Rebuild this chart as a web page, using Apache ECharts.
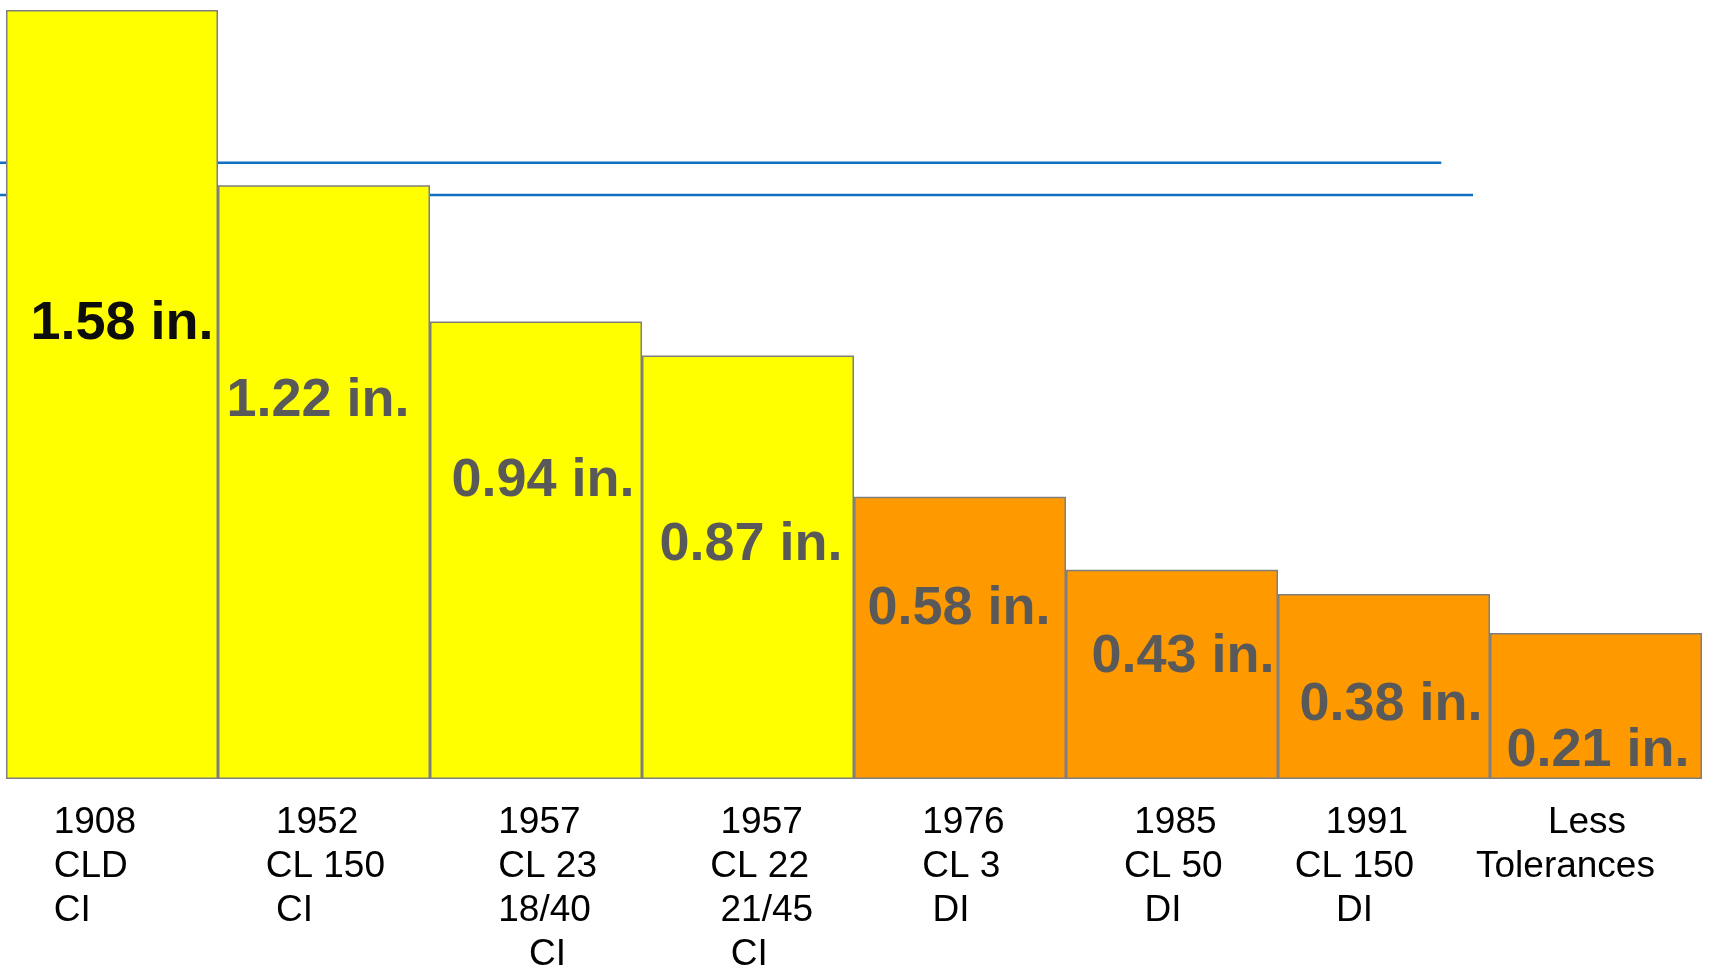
<!DOCTYPE html>
<html>
<head>
<meta charset="utf-8">
<script src="https://cdn.jsdelivr.net/npm/echarts@6/dist/echarts.min.js"></script>
<style>
  html, body { margin: 0; padding: 0; background: #fff; }
  #chart { width: 1710px; height: 970px; }
</style>
</head>
<body>
<div id="chart"></div>
<script>
// pipe categories (year / class / material)
var categories = ['1908\nCLD\nCI', '1952\nCL 150\nCI', '1957\nCL 23\n18/40\nCI', '1957\nCL 22\n21/45\nCI',
  '1976\nCL 3\nDI', '1985\nCL 50\nDI', '1991\nCL 150\nDI', 'Less\nTolerances'];
// bar heights as drawn, and the text printed on them
var barHeights = [1.58, 1.22, 0.94, 0.87, 0.58, 0.43, 0.38, 0.30];
var barTexts = ['1.58 in.', '1.22 in.', '0.94 in.', '0.87 in.', '0.58 in.', '0.43 in.', '0.38 in.', '0.21 in.'];
var barColors = ['#FFFF00', '#FFFF00', '#FFFF00', '#FFFF00', '#FF9900', '#FF9900', '#FF9900', '#FF9900'];
// the two blue reference lines: level and where they end (in bar widths)
var lineLevels = [1.266, 1.20];
var lineEnds = [6.77, 6.92];

// layout only: label offsets from bar top-centre, tick line indents (spaces)
var labelPos = [[10, 314], [-6, 216], [7, 160], [3, 190], [-1, 112], [11, 87], [7, 111], [2, 118]];
var tickIndent = [[6, 6, 6], [7, 6, 7], [8, 8, 8, 11], [9, 8, 9, 10], [8, 8, 9], [8, 7, 9], [6, 3, 7], [7, 0]];

var font = '"Liberation Sans", Arial, sans-serif';

var barData = barHeights.map(function (v, i) {
  return {
    value: v,
    itemStyle: { color: barColors[i] },
    label: {
      show: true,
      formatter: barTexts[i],
      position: ['50%', labelPos[i][1]],
      offset: [labelPos[i][0], 0],
      align: 'center',
      verticalAlign: 'middle',
      fontFamily: font,
      fontWeight: 'bold',
      fontSize: 54,
      color: i === 0 ? '#0d0d0d' : '#595959'
    }
  };
});

// the lines sit in a second, full-width grid so they can start at the page edge
var lineSeries = lineLevels.map(function (y, i) {
  return {
    type: 'line',
    xAxisIndex: 1,
    yAxisIndex: 1,
    data: [[-0.03, y], [lineEnds[i], y]],
    symbol: 'none',
    silent: true,
    z: 1,
    lineStyle: { color: '#0F6FC0', width: 2.5 }
  };
});

var myChart = echarts.init(document.getElementById('chart'));
myChart.setOption({
  animation: false,
  grid: [
    { left: 6, right: 8, top: 10, bottom: 191, containLabel: false, outerBoundsMode: 'none' },
    { left: 0, right: 0, top: 10, bottom: 191, containLabel: false, outerBoundsMode: 'none' }
  ],
  xAxis: [
    {
      type: 'category',
      gridIndex: 0,
      data: categories,
      axisLine: { show: false },
      axisTick: { show: false },
      axisLabel: {
        interval: 0,
        margin: 22,
        formatter: function (value, idx) {
          return value.split('\n').map(function (line, j) {
            return '{t|' + ' '.repeat(tickIndent[idx][j] || 0) + line + '}';
          }).join('\n');
        },
        rich: {
          t: { width: 240, align: 'left', fontFamily: font, fontSize: 37, lineHeight: 44, color: '#000' }
        }
      }
    },
    // same bar-width units as the category axis, widened by the grid margins (6px left, 8px right of 212px bars)
    { type: 'value', gridIndex: 1, min: -6 / 212, max: 8 + 8 / 212, show: false }
  ],
  yAxis: [
    { type: 'value', gridIndex: 0, min: 0, max: 1.58, show: false },
    { type: 'value', gridIndex: 1, min: 0, max: 1.58, show: false }
  ],
  series: [{
    type: 'bar',
    data: barData,
    barCategoryGap: '0%',
    z: 2,
    itemStyle: { borderColor: '#7f7f7f', borderWidth: 1.5 }
  }].concat(lineSeries)
});
</script>
</body>
</html>
